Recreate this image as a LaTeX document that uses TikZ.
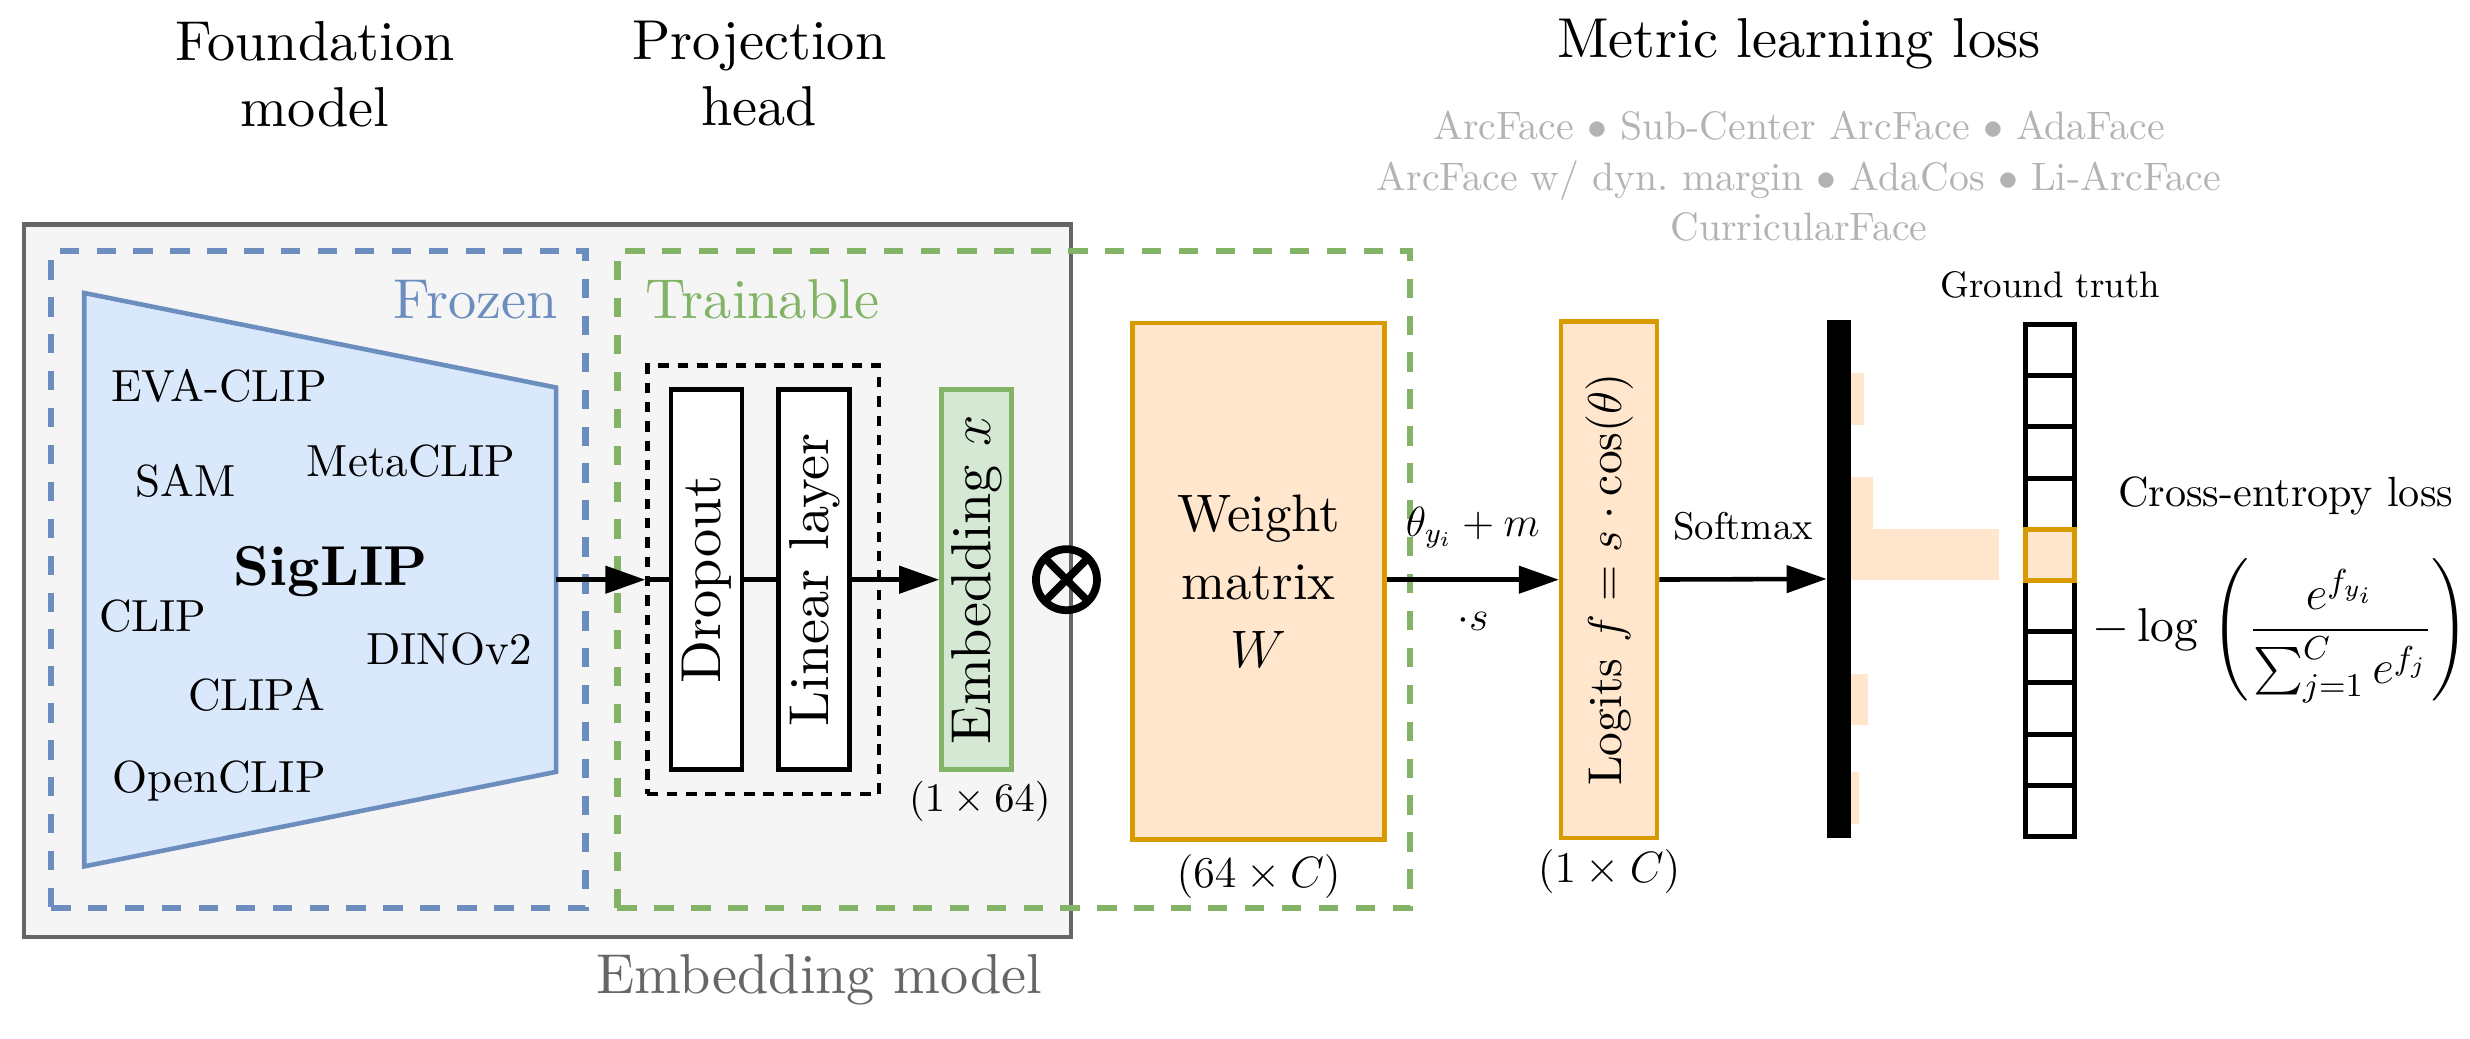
\RequirePackage{fix-cm}
\documentclass[tikz,border=0pt]{standalone}
\usepackage{amsmath,amssymb}
\usepackage{fontspec}
\setmainfont{lmroman10-regular.otf}[BoldFont=lmroman10-bold.otf, ItalicFont=lmroman10-italic.otf]
\usepackage{tikz}
\usetikzlibrary{arrows.meta, positioning}
\usepackage{xcolor}
\definecolor{frozenblue}{HTML}{6C8EBF}
\definecolor{frozenfill}{HTML}{DAE8FC}
\definecolor{traingreen}{HTML}{82B366}
\definecolor{trainfill}{HTML}{D5E8D4}
\definecolor{lossorange}{HTML}{D79B00}
\definecolor{lossfill}{HTML}{FFE6CC}
\definecolor{modelgray}{HTML}{666666}
\definecolor{modelfill}{HTML}{F5F5F5}
\definecolor{methodgray}{HTML}{B3B3B3}
\tikzstyle{title}   = [align=center, font=\fontsize{16}{18.8}\selectfont]
\tikzstyle{region}  = [rectangle, line width=1.8pt, dash pattern=on 5.5pt off 5pt]
\tikzstyle{layer}   = [rectangle, rotate=90, draw=black, line width=1.4pt, fill=white,
    minimum width=3.8cm, minimum height=0.71cm, inner sep=1pt, font=\fontsize{16}{19}\selectfont]
\tikzstyle{embed}   = [layer, draw=traingreen, fill=trainfill, minimum height=0.70cm]
\tikzstyle{lossbox} = [rectangle, draw=lossorange, line width=1.3pt, fill=lossfill]
\tikzstyle{dims}    = [font=\fontsize{12.5}{15}\selectfont]
\tikzstyle{model}   = [font=\fontsize{12.8}{15}\selectfont]
\tikzstyle{cell}    = [rectangle, draw=black, line width=1.4pt, fill=white,
    minimum width=0.49cm, minimum height=0.512cm, inner sep=0pt]
\tikzstyle{arrow}   = [line width=1.3pt, -{Triangle[length=0.4cm, width=0.27cm]}]
\tikzstyle{link}    = [line width=1.3pt]
\begin{document}
\begin{tikzpicture}[x=0.01575cm, y=-0.01575cm]
    \useasboundingbox (0,0) rectangle (1568,659);

    % headings
    \node (fmtitle) [title] at (200,47)  {Foundation\\model};
    \node (phtitle) [title] at (482,47)  {Projection\\head};
    \node (mltitle) [title] at (1142,28) {Metric learning loss};
    \node (methods) [align=center, text=methodgray, font=\fontsize{11.3}{14.4}\selectfont] at (1142,112)
        {ArcFace $\bullet$ Sub-Center ArcFace $\bullet$ AdaFace\\
         ArcFace w/ dyn.\ margin $\bullet$ AdaCos $\bullet$ Li-ArcFace\\
         CurricularFace};

    % embedding model and its two parts
    \node (embmodel) [rectangle, draw=modelgray, fill=modelfill, line width=1.2pt,
        minimum width=10.47cm, minimum height=7.127cm] at (347.5,368.75) {};
    \node (embmodeltxt) [text=modelgray, title] at (520,622) {Embedding model};
    \node (frozen)    [region, draw=frozenblue, minimum width=5.342cm, minimum height=6.569cm] at (202.1,368) {};
    \node (trainable) [region, draw=traingreen, minimum width=7.922cm, minimum height=6.569cm] at (643.5,368) {};
    \node (frozenlbl) [title, text=frozenblue] at (302,190) {Frozen};
    \node (trainlbl)  [title, text=traingreen] at (484,190) {Trainable};

    % foundation model
    \draw [frozenblue, fill=frozenfill, line width=1.3pt]
        (53.5,186) -- (353,246) -- (353,490) -- (53.5,550) -- cycle;
    \coordinate (fmout) at (353,368);
    \node (evaclip)  [model] at (139,245) {EVA-CLIP};
    \node (sam)      [model] at (118,305) {SAM};
    \node (metaclip) [model] at (261,293) {MetaCLIP};
    \node (siglip)   [font=\fontsize{16}{19}\selectfont\bfseries] at (210,363) {SigLIP};
    \node (clip)     [model] at (97,391)  {CLIP};
    \node (dinov2)   [model] at (285,412) {DINOv2};
    \node (clipa)    [model] at (163,441) {CLIPA};
    \node (openclip) [model] at (139,496) {OpenCLIP};

    % projection head
    \node (projbox) [rectangle, draw=black, line width=1.2pt, dash pattern=on 3pt off 2.5pt,
        minimum width=2.315cm, minimum height=4.284cm] at (484.5,368) {};
    \node (dropout) [layer] at (448.5,368) {Dropout};
    \node (linear)  [layer] at (517,368)   {Linear layer};
    \node (emb)     [embed] at (620,368)   {Embedding $x$};
    \node (embdim)  [font=\fontsize{11.5}{14}\selectfont] at (622,509) {$(1\times 64)$};

    \node (otimes) [circle, draw=black, line width=2.2pt, minimum size=0.61cm, inner sep=0pt,
        path picture={\draw [line width=2.2pt]
            (path picture bounding box.north west) -- (path picture bounding box.south east)
            (path picture bounding box.north east) -- (path picture bounding box.south west);}]
        at (677,368) {};

    % metric learning loss
    \node (weight) [lossbox, minimum width=2.52cm, minimum height=5.166cm, align=center,
        font=\fontsize{15}{19.3}\selectfont] at (799,369) {Weight\\matrix\\$W$};
    \node (weightdim) [dims, below=0pt of weight] {$(64\times C)$};
    \node (logits) [lossbox, rotate=90, minimum width=5.166cm, minimum height=0.96cm, inner sep=1pt,
        font=\fontsize{13.5}{16}\selectfont] at (1021.5,368) {Logits $f = s\cdot\cos(\theta)$};
    \node (logitsdim) [dims] at (1021.5,553) {$(1\times C)$};

    \node (probs) [rectangle, fill=black, minimum width=0.236cm, minimum height=5.18cm,
        inner sep=0pt] at (1167.5,367.5) {};
    \foreach \ya/\yb/\barlen in {237/270/8, 303/336/14, 336/368/94, 428/460/11, 490/523/5}
        \fill [lossfill] (1175,\ya) rectangle ({1175+\barlen},\yb);

    \node (gttitle) [font=\fontsize{10.5}{12}\selectfont] at (1301.5,181) {Ground truth};
    \foreach \i in {1,2,3,4,6,7,8,9,10}
        \node (gt\i) [cell] at (1301.5,{206+32.5*(\i-0.5)}) {};
    \node (gt5) [cell, draw=lossorange, fill=lossfill] at (1301.5,352.25) {};

    \node (celabel) [font=\fontsize{12}{14}\selectfont, inner sep=1pt] at (1451,315) {Cross-entropy loss};
    \node (celoss)  [font=\fontsize{13.5}{16}\selectfont, inner sep=0pt] at (1448,400.6)
        {$\displaystyle -\log\;\Biggl(\frac{e^{f_{y_i}}}{\sum_{j=1}^{C} e^{f_j}}\Biggr)$};

    % connections
    \draw [arrow] (fmout) -- (projbox.west);
    \draw [link]  (projbox.west) -- (dropout);
    \draw [link]  (dropout) -- (linear);
    \draw [arrow] (linear) -- (emb);
    \draw [arrow] (weight.east |- logits) -- node[above=5pt, font=\fontsize{12}{14}\selectfont]{$\theta_{y_i}+m$}
        node[below=5pt, font=\fontsize{12}{14}\selectfont]{$\cdot s$} (logits);
    \draw [arrow] (logits) -- node[above=7pt, font=\fontsize{11}{13}\selectfont]{Softmax} (probs);
\end{tikzpicture}
\end{document}
